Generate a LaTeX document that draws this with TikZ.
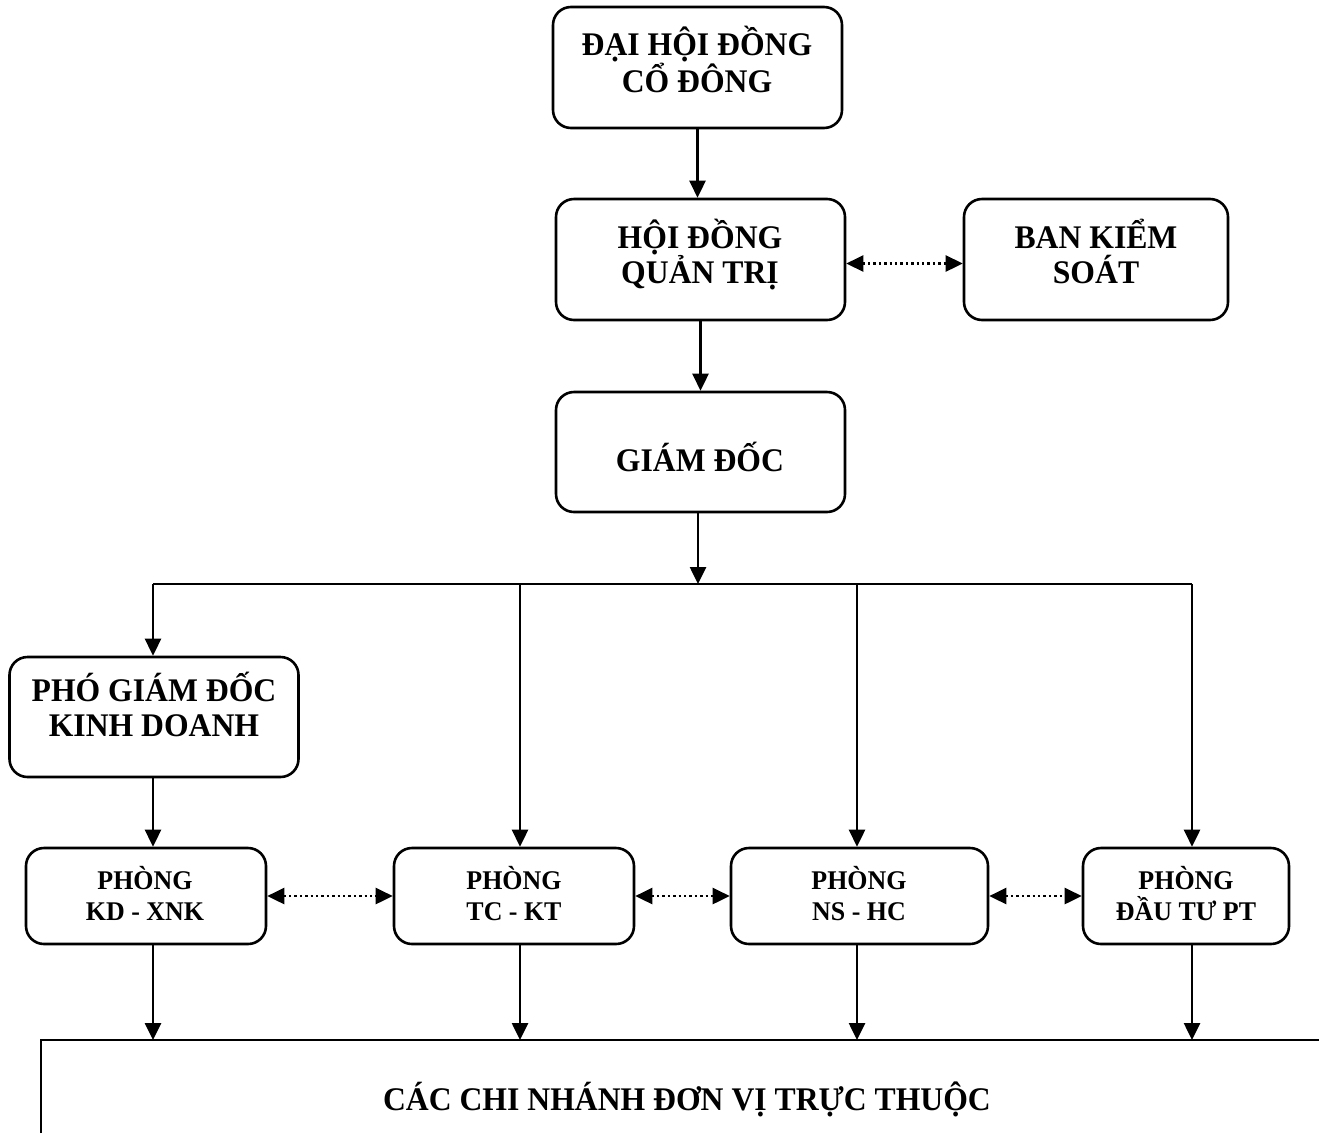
\documentclass[tikz,border=0pt]{standalone}
\usepackage{fontspec}
\setmainfont{Liberation Serif}[BoldFont={Liberation Serif Bold}, FakeStretch=0.96]
\usetikzlibrary{arrows.meta}
\begin{document}
\begin{tikzpicture}[x=1pt,y=-1pt,
  box/.style={draw, line width=2.6pt, rounded corners=18pt, inner sep=0pt},
  big/.style={font=\fontsize{33pt}{35pt}\selectfont\bfseries, align=center, anchor=base, inner sep=0pt},
  small/.style={font=\fontsize{27pt}{31pt}\selectfont\bfseries, align=center, anchor=base, inner sep=0pt},
  ln/.style={line width=2.6pt},
  arr/.style={line width=2.6pt, -{Triangle[length=17pt,width=16pt]}},
  dotarr/.style={line width=2.6pt, dash pattern=on 2.4pt off 3pt,
     {Triangle[length=17pt,width=16pt]}-{Triangle[length=17pt,width=16pt]}}
]
\useasboundingbox (0,0) rectangle (1319,1133);

% boxes
\node[box, minimum width=289pt, minimum height=121pt] (dh)  at (697.5,67.5) {};
\node[box, minimum width=289pt, minimum height=121pt] (hd)  at (700.5,259.5) {};
\node[box, minimum width=264pt, minimum height=121pt] (bks) at (1096,259.5) {};
\node[box, minimum width=289pt, minimum height=120pt] (gd)  at (700.5,452) {};
\node[box, minimum width=289pt, minimum height=120pt] (pgd) at (154,717) {};
\node[box, minimum width=240pt, minimum height=96pt] (p1) at (146,896) {};
\node[box, minimum width=240pt, minimum height=96pt] (p2) at (514,896) {};
\node[box, minimum width=257pt, minimum height=96pt] (p3) at (859.5,896) {};
\node[box, minimum width=206pt, minimum height=96pt] (p4) at (1186,896) {};

% texts (base = last line's baseline)
\node[big] (tdh)  at (697,92)  {ĐẠI HỘI ĐỒNG\\CỔ ĐÔNG};
\node[big] (thd)  at (700,283) {HỘI ĐỒNG\\QUẢN TRỊ};
\node[big] (tbks) at (1096,283) {BAN KIỂM\\SOÁT};
\node[big] (tgd)  at (700,471) {GIÁM ĐỐC};
\node[big] (tpgd) at (154,736) {PHÓ GIÁM ĐỐC\\KINH DOANH};
\node[small] (tp1) at (145,920) {PHÒNG\\KD - XNK};
\node[small] (tp2) at (514,920) {PHÒNG\\TC - KT};
\node[small] (tp3) at (859,920) {PHÒNG\\NS - HC};
\node[small] (tp4) at (1186,920) {PHÒNG\\ĐẦU TƯ PT};
\node[big] (tcn) at (687,1110) {CÁC CHI NHÁNH ĐƠN VỊ TRỰC THUỘC};

% bottom open box
\coordinate (cntop) at (41,1040);
\coordinate (cnbot) at (41,1133);
\coordinate (cnright) at (1319,1040);
\draw[ln] (cnbot) -- (cntop) -- (cnright);

% vertical chain
\draw[arr] (dh.south) -- (dh.south |- hd.north);
\draw[dotarr] ([yshift=-4pt]hd.east) -- ([yshift=-4pt]bks.west);
\draw[arr] (hd.south) -- (hd.south |- gd.north);

% bus
\coordinate (c1) at (153,584);
\coordinate (c2) at (520,584);
\coordinate (c3) at (857,584);
\coordinate (c4) at (1192,584);
\coordinate (cg) at (698,584);
\draw[ln] (c1) -- (c4);
\draw[arr] (cg |- gd.south) -- (cg);

\draw[arr] (c1) -- (c1 |- pgd.north);
\draw[arr] (c1 |- pgd.south) -- (c1 |- p1.north);
\draw[arr] (c2) -- (c2 |- p2.north);
\draw[arr] (c3) -- (c3 |- p3.north);
\draw[arr] (c4) -- (c4 |- p4.north);

% dotted links between departments
\draw[dotarr] (p1.east) -- (p2.west);
\draw[dotarr] (p2.east) -- (p3.west);
\draw[dotarr] (p3.east) -- (p4.west);

% arrows to branches
\draw[arr] (c1 |- p1.south) -- (c1 |- cntop);
\draw[arr] (c2 |- p2.south) -- (c2 |- cntop);
\draw[arr] (c3 |- p3.south) -- (c3 |- cntop);
\draw[arr] (c4 |- p4.south) -- (c4 |- cntop);
\end{tikzpicture}
\end{document}
